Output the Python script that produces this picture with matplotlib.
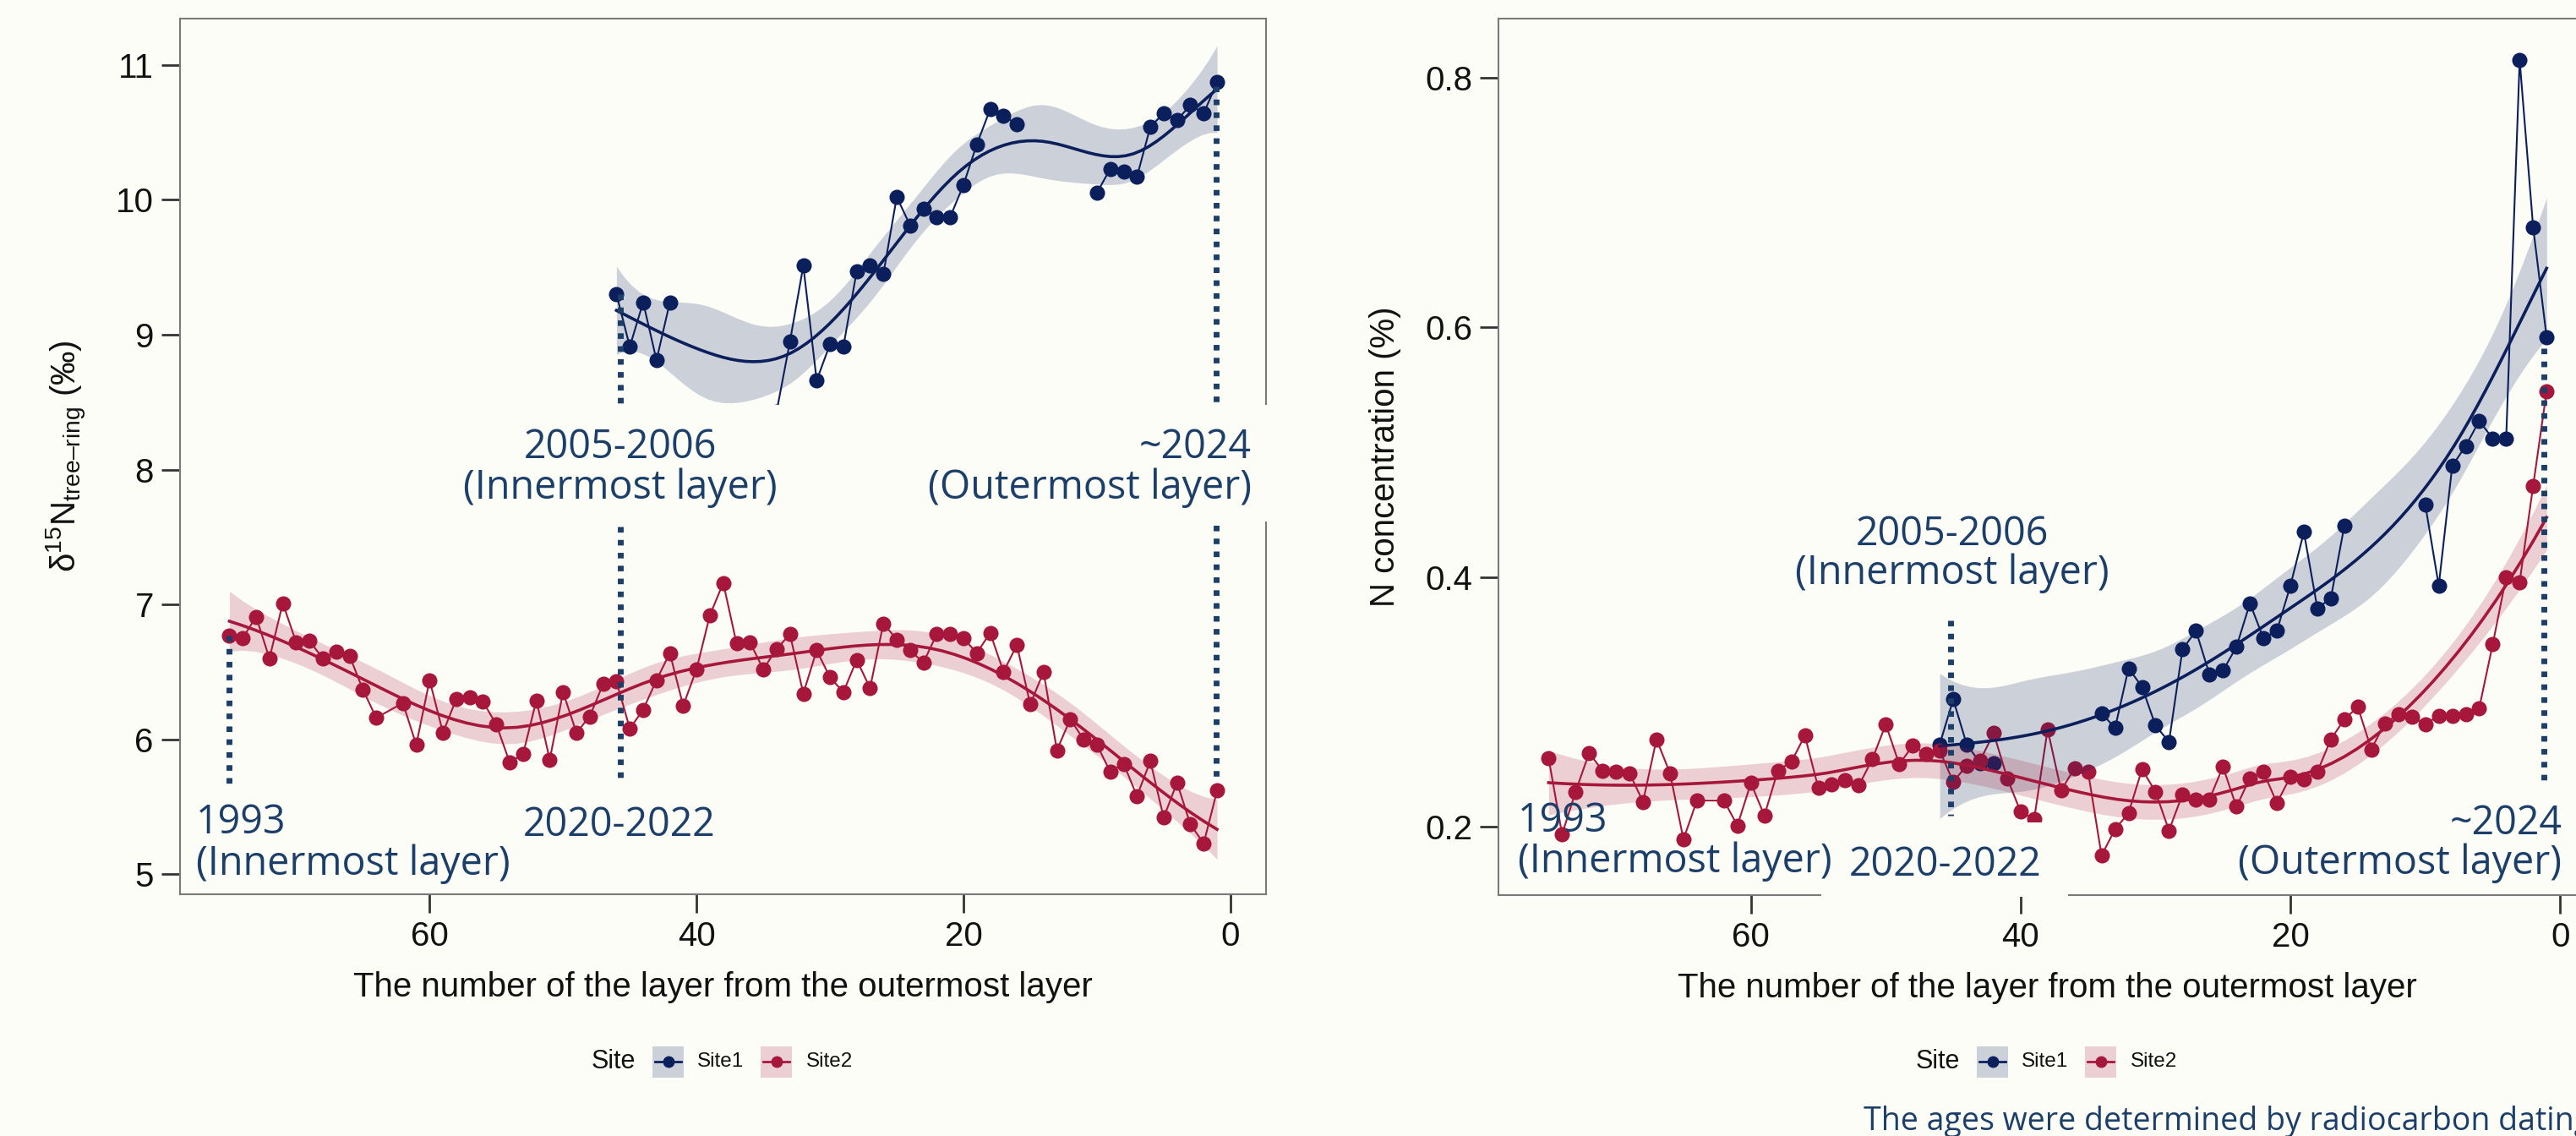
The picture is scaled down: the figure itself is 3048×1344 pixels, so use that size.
import numpy as np
import matplotlib
matplotlib.use("Agg")
import matplotlib.pyplot as plt
from matplotlib.patches import Rectangle
from matplotlib.lines import Line2D

plt.rcParams['font.family'] = ['Liberation Sans', 'DejaVu Sans']
plt.rcParams['mathtext.fontset'] = 'custom'
plt.rcParams['mathtext.rm'] = 'Liberation Sans'
plt.rcParams['mathtext.it'] = 'Liberation Sans:italic'

# ---- data (layer number counted from the outermost layer) ----
site_names = ['Site1', 'Site2']

# Site2: layer 63 is absent
layer_site2 = list(range(75, 63, -1)) + list(range(62, 0, -1))
d15n_site2 = [6.77, 6.75, 6.91, 6.60, 7.01, 6.72, 6.73, 6.60, 6.65, 6.62, 6.37, 6.16,
              6.27, 5.96, 6.44, 6.05, 6.30, 6.31, 6.28, 6.11, 5.83, 5.89, 6.29, 5.85,
              6.35, 6.05, 6.17, 6.41, 6.43, 6.08, 6.22, 6.44, 6.64, 6.25, 6.52, 6.92,
              7.16, 6.71, 6.72, 6.52, 6.67, 6.78, 6.34, 6.66, 6.46, 6.35, 6.59, 6.38,
              6.86, 6.74, 6.66, 6.57, 6.78, 6.78, 6.75, 6.64, 6.79, 6.50, 6.70, 6.26,
              6.50, 5.92, 6.15, 6.00, 5.96, 5.76, 5.82, 5.58, 5.84, 5.42, 5.68, 5.37,
              5.23, 5.62]
nconc_site2 = [0.255, 0.194, 0.228, 0.259, 0.245, 0.244, 0.243, 0.220, 0.270, 0.243, 0.190, 0.221,
               0.221, 0.201, 0.235, 0.209, 0.245, 0.252, 0.273, 0.231, 0.234, 0.237, 0.233, 0.254,
               0.282, 0.250, 0.265, 0.258, 0.261, 0.236, 0.249, 0.253, 0.275, 0.239, 0.212, 0.206,
               0.278, 0.229, 0.247, 0.244, 0.177, 0.198, 0.211, 0.246, 0.228, 0.197, 0.226, 0.222,
               0.222, 0.248, 0.216, 0.239, 0.244, 0.219, 0.240, 0.238, 0.244, 0.270, 0.286, 0.296,
               0.262, 0.283, 0.290, 0.288, 0.282, 0.289, 0.289, 0.290, 0.295, 0.346, 0.400, 0.396,
               0.473, 0.549]

# Site1: layers 46..1, missing layers (NA) break the line
nan = np.nan
layer_site1 = list(range(46, 0, -1))
d15n_site1 = [9.30, 8.91, 9.24, 8.81, 9.24, nan, nan, nan, nan, nan, nan, nan,
              8.43, 8.95, 9.51, 8.66, 8.93, 8.91, 9.47, 9.51, 9.45, 10.02, 9.81, 9.93,
              9.87, 9.87, 10.11, 10.41, 10.67, 10.62, 10.56, nan, nan, nan, nan, nan,
              10.05, 10.23, 10.21, 10.17, 10.54, 10.64, 10.59, 10.70, 10.64, 10.87]
nconc_site1 = [0.266, 0.302, 0.266, 0.251, 0.251, nan, nan, nan, nan, nan, nan, nan,
               0.291, 0.279, 0.327, 0.312, 0.281, 0.268, 0.342, 0.357, 0.322, 0.325, 0.344, 0.379,
               0.351, 0.357, 0.393, 0.436, 0.375, 0.383, 0.441, nan, nan, nan, nan, nan,
               0.458, 0.393, 0.489, 0.505, 0.525, 0.511, 0.511, 0.814, 0.680, 0.592]

# annotation guide lines: (layer, y_from, y_to)
guides_d15n = [(75.0, 6.77, 5.62), (45.7, 9.30, 5.69), (1.07, 10.84, 5.67)]
guides_nconc = [(45.2, 0.365, 0.209), (1.2, 0.583, 0.236)]

BG = '#fdfdf8'
NAVY = '#0b1f5c'
CRIMSON = '#a7173b'
ANN = '#1c3f6a'
colors = {'Site1': NAVY, 'Site2': CRIMSON}

W, H = 3048, 1344


def t975(df):
    z = 1.959964
    g1 = (z**3 + z) / 4
    g2 = (5 * z**5 + 16 * z**3 + 3 * z) / 96
    g3 = (3 * z**7 + 19 * z**5 + 17 * z**3 - 15 * z) / 384
    return z + g1 / df + g2 / df**2 + g3 / df**3


def clean(x, y):
    x = np.asarray(x, float)
    y = np.asarray(y, float)
    ok = ~np.isnan(y)
    return x[ok], y[ok]


def bbasis(x, knots, deg=3):
    x = np.minimum(np.asarray(x, float), knots[-1] - 1e-9)
    B = np.array([(knots[i] <= x) & (x < knots[i + 1])
                  for i in range(len(knots) - 1)], float).T
    for d in range(1, deg + 1):
        nb = len(knots) - 1 - d
        Bn = np.zeros((len(x), nb))
        for i in range(nb):
            den1 = knots[i + d] - knots[i]
            den2 = knots[i + d + 1] - knots[i + 1]
            if den1 > 0:
                Bn[:, i] += (x - knots[i]) / den1 * B[:, i]
            if den2 > 0:
                Bn[:, i] += (knots[i + d + 1] - x) / den2 * B[:, i + 1]
        B = Bn
    return B


def gam_band(x, y, k=10, npts=80):
    # penalised cubic regression spline, smoothness chosen by REML
    x, y = clean(x, y)
    n = len(x)
    a, b = x.min(), x.max()
    knots = np.r_[[a] * 4, np.linspace(a, b, k - 2)[1:-1], [b] * 4]
    X = bbasis(x, knots)
    g = np.linspace(a, b, 4001)
    dg = g[1] - g[0]
    Bg = bbasis(g, knots)
    D2 = (Bg[2:] - 2 * Bg[1:-1] + Bg[:-2]) / dg**2
    S = D2.T @ D2 * dg
    XtX = X.T @ X
    Xty = X.T @ y
    r = X.shape[1] - 2
    sc = np.trace(XtX) / np.trace(S)
    best = None
    for lam in sc * np.logspace(-8, 4, 400):
        A = XtX + lam * S
        beta = np.linalg.solve(A, Xty)
        rss = np.sum((y - X @ beta)**2)
        pen = lam * beta @ S @ beta
        V = (n - 2) * np.log(rss + pen) + np.linalg.slogdet(A)[1] - r * np.log(lam)
        if best is None or V < best[0]:
            best = (V, lam)
    Ai = np.linalg.inv(XtX + best[1] * S)
    beta = Ai @ Xty
    rss = np.sum((y - X @ beta)**2)
    edf = np.trace(Ai @ XtX)
    sig2 = rss / (n - edf)
    xout = np.linspace(a, b, npts)
    Xp = bbasis(xout, knots)
    fit = Xp @ beta
    se = np.sqrt(np.einsum('ij,jk,ik->i', Xp, Ai * sig2, Xp))
    t = t975(n - edf)
    return xout, fit, fit - t * se, fit + t * se


def loess_band(x, y, span=0.6, npts=80):
    # local quadratic loess with tricube weights
    x, y = clean(x, y)
    n = len(x)
    q = int(np.floor(n * span + 1e-5))

    def row(x0):
        d = np.abs(x - x0)
        h = np.sort(d)[q - 1]
        u = d / h
        w = np.where(u < 1, (1 - u**3)**3, 0.0)
        X = np.column_stack([np.ones(n), x - x0, (x - x0)**2])
        XtW = X.T * w
        return np.linalg.solve(XtW @ X, XtW)[0]

    xout = np.linspace(x.min(), x.max(), npts)
    L = np.array([row(v) for v in x])
    lo = np.array([row(v) for v in xout])
    fit = lo @ y
    IL = np.eye(n) - L
    A = IL.T @ IL
    d1 = np.trace(A)
    d2 = np.trace(A @ A)
    s = np.sqrt(np.sum((y - L @ y)**2) / d1)
    se = s * np.sqrt(np.sum(lo**2, axis=1))
    t = t975(d1**2 / d2)
    return xout, fit, fit - t * se, fit + t * se


def fx(px):
    return px / W


def fy(py):
    return 1 - py / H


def style_axes(ax, yticks, ylim):
    ax.set_facecolor(BG)
    for sp in ax.spines.values():
        sp.set_color('#7a7a7a')
        sp.set_linewidth(1.5)
    ax.set_xlim(78.7, -2.7)
    ax.set_ylim(*ylim)
    ax.set_xticks([60, 40, 20, 0])
    ax.set_yticks(yticks)
    ax.tick_params(direction='out', length=15.5, width=2, color='#333333',
                   labelsize=29, labelcolor='#111111', pad=7)


def draw_panel(ax, series, smoothers, guides):
    z = 2
    for name in site_names:
        lay, val = series[name]
        ax.plot(lay, val, color=colors[name], lw=1.5, marker='o', ms=13,
                mec='none', zorder=z)
        z += 0.1
    z = 3
    for name in site_names:
        lay, val = series[name]
        xs, fit, lo, hi = smoothers[name](lay, val)
        ax.fill_between(xs, lo, hi, color=colors[name], alpha=0.2, lw=0, zorder=z)
        ax.plot(xs, fit, color=colors[name], lw=2.6, zorder=z + 0.1)
        z += 0.2
    for gx, g0, g1 in guides:
        ax.plot([gx, gx], [g0, g1], color=ANN, lw=5, linestyle=(0, (0.95, 1.25)),
                dash_capstyle='butt', zorder=6, clip_on=False)


fig = plt.figure(figsize=(W / 100, H / 100), dpi=100, facecolor=BG)

ax1 = fig.add_axes([fx(213), fy(1057.6), fx(1498.5 - 213), (1057.6 - 22.3) / H])
ax2 = fig.add_axes([fx(1773.3), fy(1058.5), fx(3072.3 - 1773.3), (1058.5 - 22.3) / H])

style_axes(ax1, [5, 6, 7, 8, 9, 10, 11], (4.855, 11.34))
style_axes(ax2, [0.2, 0.4, 0.6, 0.8], (0.1456, 0.847))
ax2.set_yticklabels(['0.2', '0.4', '0.6', '0.8'])

draw_panel(ax1, {'Site1': (layer_site1, d15n_site1), 'Site2': (layer_site2, d15n_site2)},
           {'Site1': gam_band, 'Site2': gam_band}, guides_d15n)
draw_panel(ax2, {'Site1': (layer_site1, nconc_site1), 'Site2': (layer_site2, nconc_site2)},
           {'Site1': gam_band, 'Site2': loess_band}, guides_nconc)

for ax in (ax1, ax2):
    ax.set_xlabel('The number of the layer from the outermost layer', fontsize=29,
                  color='#111111')
    ax.xaxis.label.set_va('center')
    ax.xaxis.set_label_coords(0.5, -0.1066)

ax1.set_ylabel('δ$^{15}$N$_{\\mathrm{tree–ring}}$ (‰)', fontsize=29, color='#111111')
ax2.set_ylabel('N concentration (%)', fontsize=29, color='#111111')
for ax, cx in ((ax1, -0.1042), (ax2, -0.1034)):
    ax.yaxis.label.set_va('center')
    ax.yaxis.set_label_coords(cx, 0.5)

# ---- boxes from the slide that cover parts of the plots ----
for x0, y0, x1, y1 in [(525, 479, 1512, 617), (2155, 973, 2447, 1061)]:
    fig.add_artist(Rectangle((fx(x0), fy(y1)), fx(x1 - x0), (y1 - y0) / H,
                             transform=fig.transFigure, facecolor=BG,
                             edgecolor='none', zorder=10))

# ---- annotation texts (x, baseline y, text, alignment) ----
notes = [
    (733.5, 542, '2005-2006', 'center'), (733.5, 590, '(Innermost layer)', 'center'),
    (1481, 542, '~2024', 'right'), (1481, 590, '(Outermost layer)', 'right'),
    (232, 986, '1993', 'left'), (232, 1035, '(Innermost layer)', 'left'),
    (733, 989, '2020-2022', 'center'),
    (2310, 645, '2005-2006', 'center'), (2310, 691, '(Innermost layer)', 'center'),
    (1796, 984, '1993', 'left'), (1796, 1032, '(Innermost layer)', 'left'),
    (2302, 1036, '2020-2022', 'center'),
    (3032, 987, '~2024', 'right'), (3031, 1034, '(Outermost layer)', 'right'),
]
for x, y, s, ha in notes:
    fig.text(fx(x), fy(y), s, ha=ha, va='baseline', fontsize=33.6, color=ANN,
             family=['Open Sans', 'DejaVu Sans'], zorder=11)

fig.text(fx(2205), fy(1337), 'The ages were determined by radiocarbon dating', ha='left',
         va='baseline', fontsize=27, color=ANN, family=['Open Sans', 'DejaVu Sans'], zorder=11)

# ---- legends under each panel ----
for cx in (856, 2423):
    x0 = cx - 156
    yc = 1256
    fig.text(fx(x0), fy(yc), 'Site', ha='left', va='center', fontsize=22, color='#111111')
    for name, off_key, off_lab in (('Site1', 72, 125), ('Site2', 200, 254)):
        kx = x0 + off_key
        fig.add_artist(Rectangle((fx(kx), fy(yc + 18.5)), fx(37), 37 / H,
                                 transform=fig.transFigure, facecolor=colors[name],
                                 alpha=0.2, edgecolor='none'))
        fig.add_artist(Line2D([fx(kx + 3), fx(kx + 34)], [fy(yc), fy(yc)],
                              transform=fig.transFigure, color=colors[name], lw=2))
        fig.add_artist(Line2D([fx(kx + 18.5)], [fy(yc)], transform=fig.transFigure,
                              color=colors[name], marker='o', ms=10, mec='none'))
        fig.text(fx(x0 + off_lab), fy(yc), name, ha='left', va='center', fontsize=17.5,
                 color='#111111')

fig.savefig('out.png', dpi=100, facecolor=BG)
